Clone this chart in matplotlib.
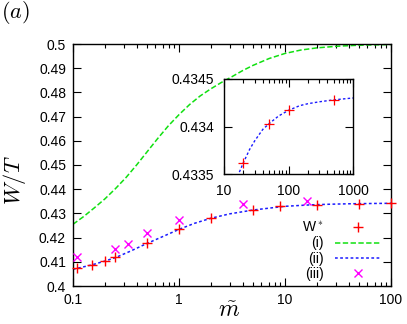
import matplotlib
matplotlib.use('Agg')
import matplotlib.pyplot as plt
from matplotlib.ticker import FixedLocator, FixedFormatter, LogLocator, NullFormatter

plt.rcParams['font.family'] = ['Liberation Sans', 'DejaVu Sans']
plt.rcParams['mathtext.fontset'] = 'cm'

# ---- data ----
# curve (i)
m_i = [0.1, 0.126, 0.158, 0.2, 0.251, 0.316, 0.398, 0.501, 0.631, 0.794, 1.0,
       1.26, 1.58, 2.0, 2.51, 3.16, 3.98, 5.01, 7.08, 10, 14.1, 20, 31.6, 50, 100]
w_i = [0.4255, 0.4287, 0.4322, 0.4360, 0.4402, 0.4448, 0.4500, 0.4555, 0.4610,
       0.4662, 0.4708, 0.4750, 0.4785, 0.4815, 0.4841, 0.4865, 0.4890, 0.4912,
       0.4940, 0.4961, 0.4975, 0.4984, 0.4991, 0.4995, 0.4998]
# curve (ii)
m_ii = [0.1, 0.15, 0.2, 0.25, 0.34, 0.5, 0.7, 1.0, 1.4, 2.0, 3.0, 5.0, 10, 17.3,
        20, 25, 30, 40, 50, 70, 100, 150, 200, 300, 500, 700, 1000]
w_ii = [0.4069, 0.4087, 0.4103, 0.4117, 0.4142, 0.4176, 0.4204, 0.4234, 0.4259,
        0.4280, 0.4298, 0.4314, 0.43293, 0.43352, 0.43362, 0.43376, 0.43385,
        0.43397, 0.43403, 0.43411, 0.43417, 0.43422, 0.43424, 0.43426, 0.43428,
        0.43429, 0.43430]
# W* points
m_w = [0.11, 0.15, 0.2, 0.25, 0.5, 1, 2, 5, 9, 20, 50, 100, 500]
w_w = [0.4073, 0.4087, 0.4105, 0.4119, 0.4176, 0.4234, 0.4281, 0.4314, 0.4329,
       0.43362, 0.43403, 0.43417, 0.43428]
# (iii) points
m_iii = [0.11, 0.25, 0.33, 0.5, 1, 4, 16]
w_iii = [0.4121, 0.4152, 0.4174, 0.4219, 0.4273, 0.4338, 0.4352]

main_xticks = [0.1, 1, 10, 100]
main_xticklabels = ['0.1', '1', '10', '100']
main_yticks = [0.40, 0.41, 0.42, 0.43, 0.44, 0.45, 0.46, 0.47, 0.48, 0.49, 0.50]
main_yticklabels = ['0.4', '0.41', '0.42', '0.43', '0.44', '0.45', '0.46',
                    '0.47', '0.48', '0.49', '0.5']
inset_xticks = [10, 100, 1000]
inset_xticklabels = ['10', '100', '1000']
inset_yticks = [0.4335, 0.434, 0.4345]
inset_yticklabels = ['0.4335', '0.434', '0.4345']

labels = ['W$^*$', '(i)', '(ii)', '(iii)']

GREEN = '#11e011'
BLUE = '#1a1aff'
RED = '#ff0000'
MAG = '#ff00ff'

W, H = 407, 324
fig = plt.figure(figsize=(W / 100, H / 100), dpi=100)
ax = fig.add_axes([73 / W, 1 - 286 / H, 318 / W, 242 / H])


def style_axis(a, xt, xtl, yt, ytl):
    a.set_xscale('log')
    a.xaxis.set_major_locator(FixedLocator(xt))
    a.xaxis.set_major_formatter(FixedFormatter(xtl))
    a.xaxis.set_minor_locator(LogLocator(base=10, subs=range(2, 10)))
    a.xaxis.set_minor_formatter(NullFormatter())
    a.yaxis.set_major_locator(FixedLocator(yt))
    a.yaxis.set_major_formatter(FixedFormatter(ytl))
    a.tick_params(which='both', direction='in', top=True, right=True,
                  labelsize=10, width=0.8, colors='black')
    a.tick_params(which='major', length=5.5, pad=5)
    a.tick_params(which='minor', length=3)
    for s in a.spines.values():
        s.set_linewidth(1.0)


ax.plot(m_i, w_i, color=GREEN, lw=1.1, dashes=(3.5, 1.6), label=labels[1], zorder=2)
ax.plot(m_ii, w_ii, color=BLUE, lw=1.1, dashes=(1.8, 1.6), label=labels[2], zorder=2)
mw_main = [m for m in m_w if m <= 100]
ww_main = [w for m, w in zip(m_w, w_w) if m <= 100]
ax.plot(mw_main, ww_main, ls='none', marker='+', ms=7, mew=1.0, color=RED,
        label=labels[0], clip_on=False, zorder=4)
ax.plot(m_iii, w_iii, ls='none', marker='x', ms=6, mew=1.0, color=MAG,
        label=labels[3], clip_on=False, zorder=3)
ax.set_xlim(0.1, 100)
ax.set_ylim(0.4, 0.5)
style_axis(ax, main_xticks, main_xticklabels, main_yticks, main_yticklabels)

h, l = ax.get_legend_handles_labels()
order = [2, 0, 1, 3]
leg = ax.legend([h[i] for i in order], [l[i] for i in order], loc='lower right',
                bbox_to_anchor=(0.9686, 0.02), borderaxespad=0, borderpad=0,
                frameon=False, markerfirst=False, fontsize=10, handlelength=3.3,
                handletextpad=0.8, labelspacing=0.1)

# inset
axi = fig.add_axes([224 / W, 1 - 174 / H, 129 / W, 95 / H])
axi.plot(m_ii, w_ii, color=BLUE, lw=1.0, dashes=(1.8, 1.6), zorder=2)
axi.plot(m_w, w_w, ls='none', marker='+', ms=7, mew=0.9, color=RED, zorder=3)
axi.set_xlim(10, 1000)
axi.set_ylim(0.4335, 0.4345)
style_axis(axi, inset_xticks, inset_xticklabels, inset_yticks, inset_yticklabels)
axi.tick_params(which='major', pad=7)

fig.text(14 / W, 1 - 180 / H, r'$W/T$', rotation=90, ha='center', va='center',
         fontsize=16)
fig.text(229 / W, 1 - 311 / H, r'$\tilde{m}$', ha='center', va='center', fontsize=17)
fig.text(1 / W, 1 - 13 / H, r'$(a)$', ha='left', va='center', fontsize=16)

fig.savefig('out.png', dpi=100)
